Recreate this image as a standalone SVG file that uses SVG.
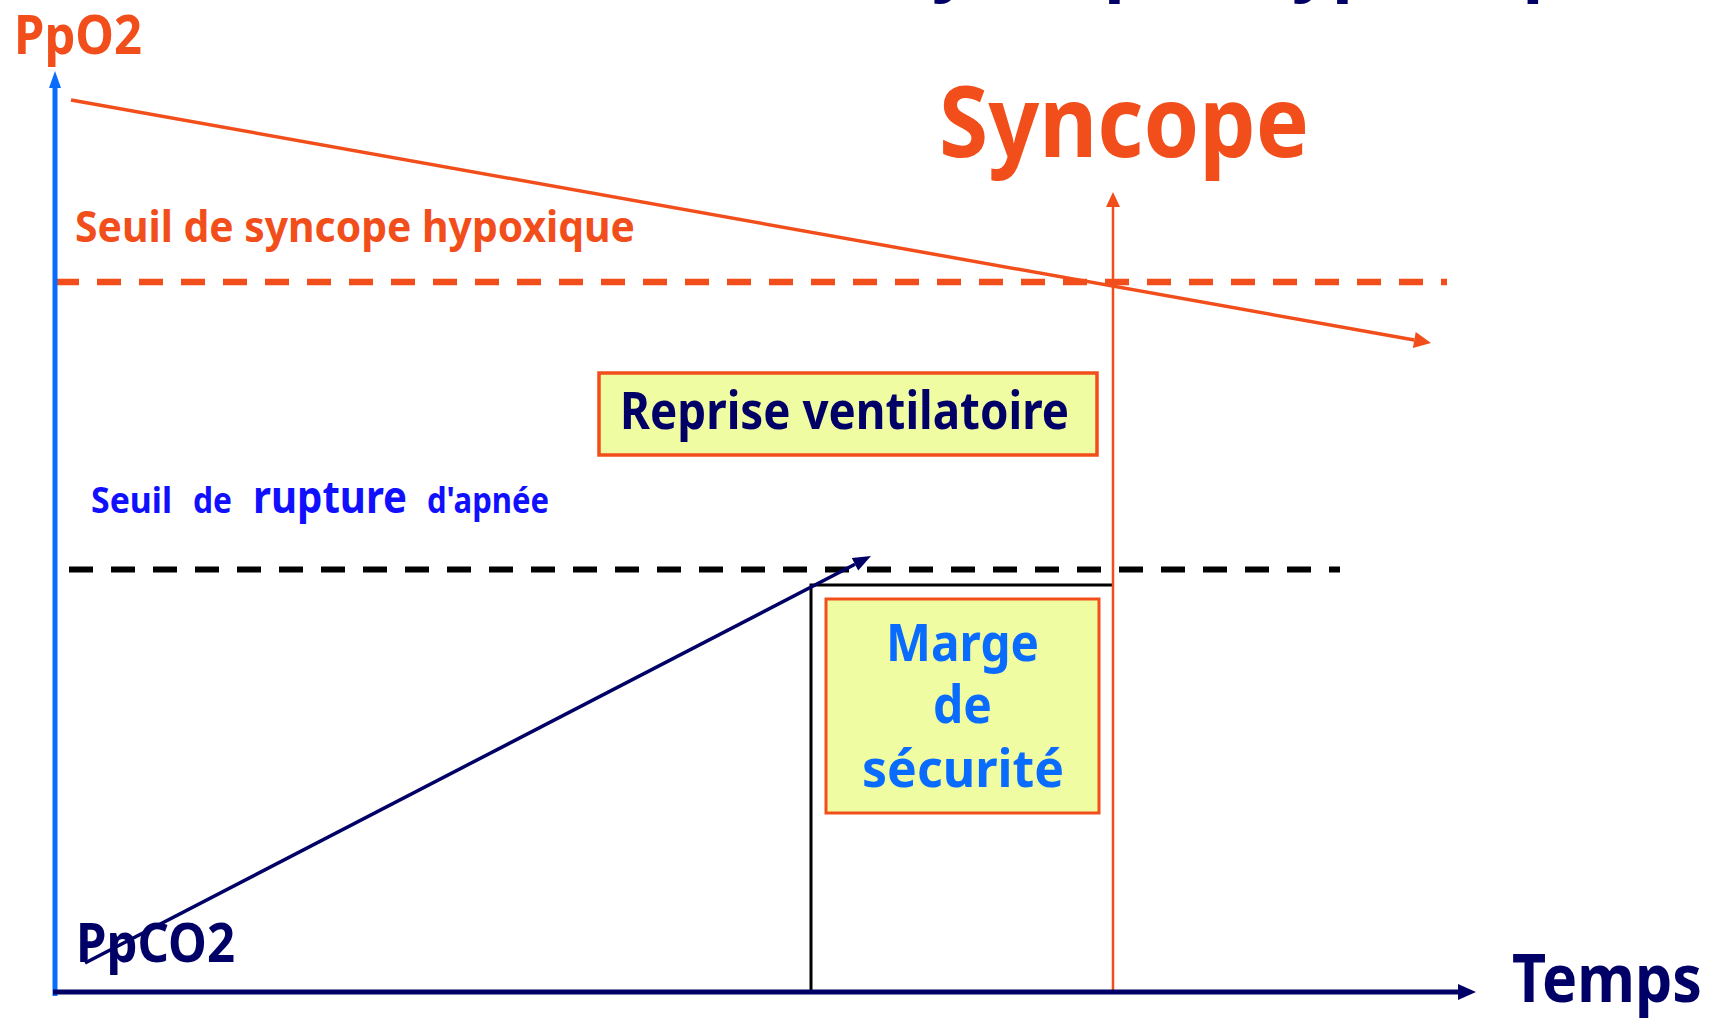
<svg xmlns="http://www.w3.org/2000/svg" width="1711" height="1019" viewBox="0 0 1711 1019">
  <style>
    text { font-family: "Noto Sans", "DejaVu Sans", sans-serif; font-weight: bold; }
    .orange { fill: #F24E1B; }
    .navy { fill: #000066; }
    .blue { fill: #0A6CFF; }
    .pure { fill: #1010FF; }
    .box { fill: #F0FCA2; stroke: #F24E1B; }
    .dash-o { stroke: #F24E1B; stroke-width: 6.5; stroke-dasharray: 24 18; fill: none; }
    .dash-k { stroke: #000000; stroke-width: 6; stroke-dasharray: 24 18; fill: none; }
    .frame { stroke: #000000; stroke-width: 3; fill: none; }
  </style>
  <defs>
    <marker id="head-blue" markerUnits="userSpaceOnUse" orient="auto" refX="0" refY="0" markerWidth="30" markerHeight="30" overflow="visible">
      <path d="M0,-6 L17,0 L0,6 Z" fill="#0A6CFF"/>
    </marker>
    <marker id="head-navy-axis" markerUnits="userSpaceOnUse" orient="auto" refX="0" refY="0" markerWidth="30" markerHeight="30" overflow="visible">
      <path d="M0,-8 L18,0 L0,8 Z" fill="#000066"/>
    </marker>
    <marker id="head-navy" markerUnits="userSpaceOnUse" orient="auto" refX="0" refY="0" markerWidth="30" markerHeight="30" overflow="visible">
      <path d="M0,-7 L18,0 L0,7 Z" fill="#000066"/>
    </marker>
    <marker id="head-orange" markerUnits="userSpaceOnUse" orient="auto" refX="0" refY="0" markerWidth="30" markerHeight="30" overflow="visible">
      <path d="M0,-8 L17,0 L0,8 Z" fill="#F24E1B"/>
    </marker>
    <marker id="head-orange-thin" markerUnits="userSpaceOnUse" orient="auto" refX="0" refY="0" markerWidth="30" markerHeight="30" overflow="visible">
      <path d="M0,-7 L15,0 L0,7 Z" fill="#F24E1B"/>
    </marker>
  </defs>

  <rect width="1711" height="1019" fill="#ffffff"/>

  <!-- slide title, mostly above the visible area: only its descenders show -->
  <text class="navy" font-size="70" y="-13" x="890 932 975 1015 1050 1104 1148 1190 1247 1292 1332 1378 1420 1458 1499 1545 1590">syncope hypoxique</text>

  <!-- threshold lines -->
  <g id="thresholds">
    <line class="dash-o" x1="55" y1="282" x2="1447" y2="282"/>
    <line class="dash-k" x1="69" y1="569.5" x2="1340" y2="569.5"/>
  </g>

  <!-- safety-margin frame -->
  <g id="margin-frame">
    <polyline class="frame" points="811,993 811,585 1113,585"/>
  </g>

  <g id="connectors">
    <!-- PpO2 falling over time -->
    <line x1="71" y1="100" x2="1414.3" y2="340" stroke="#F24E1B" stroke-width="3.5" marker-end="url(#head-orange)"/>
    <!-- PpCO2 rising over time -->
    <line x1="85" y1="963" x2="855" y2="564.3" stroke="#000066" stroke-width="3.5" marker-end="url(#head-navy)"/>
    <!-- syncope instant -->
    <line x1="1113" y1="993" x2="1113" y2="207" stroke="#F24E1B" stroke-width="2.5" marker-end="url(#head-orange-thin)"/>
    <!-- axes -->
    <line x1="55" y1="996" x2="55" y2="88" stroke="#0A6CFF" stroke-width="5" marker-end="url(#head-blue)"/>
    <line x1="53" y1="992" x2="1458" y2="992" stroke="#000066" stroke-width="5" marker-end="url(#head-navy-axis)"/>
  </g>

  <g id="axis-ppo2">
    <text class="orange" x="14" y="54" font-size="54" textLength="128" lengthAdjust="spacingAndGlyphs">PpO2</text>
  </g>
  <g id="axis-ppco2">
    <text class="navy" x="76" y="962" font-size="54" textLength="159" lengthAdjust="spacingAndGlyphs">PpCO2</text>
  </g>
  <g id="axis-temps">
    <text class="navy" x="1512" y="1002" font-size="66" textLength="190" lengthAdjust="spacingAndGlyphs">Temps</text>
  </g>

  <g id="syncope">
    <text class="orange" x="939" y="157" font-size="98" textLength="370" lengthAdjust="spacingAndGlyphs">Syncope</text>
  </g>

  <g id="seuil-syncope">
    <text class="orange" x="75" y="242" font-size="43" textLength="560" lengthAdjust="spacingAndGlyphs">Seuil de syncope hypoxique</text>
  </g>

  <g id="seuil-rupture">
    <text class="pure" y="513" font-size="35"><tspan x="91" textLength="81" lengthAdjust="spacingAndGlyphs">Seuil</tspan> <tspan x="193" textLength="39" lengthAdjust="spacingAndGlyphs">de</tspan> <tspan x="253" font-size="44" textLength="154" lengthAdjust="spacingAndGlyphs">rupture</tspan> <tspan x="427" textLength="122" lengthAdjust="spacingAndGlyphs">d'apnée</tspan></text>
  </g>

  <g id="reprise">
    <rect class="box" x="599" y="373" width="498" height="82" stroke-width="3.5"/>
    <text class="navy" x="620" y="429" font-size="52" textLength="449" lengthAdjust="spacingAndGlyphs">Reprise ventilatoire</text>
  </g>

  <g id="marge">
    <rect class="box" x="826" y="599" width="273" height="214" stroke-width="3"/>
    <text class="blue" font-size="52">
      <tspan x="886" y="661" textLength="153" lengthAdjust="spacingAndGlyphs">Marge</tspan>
      <tspan x="933" y="723" textLength="59" lengthAdjust="spacingAndGlyphs">de</tspan>
      <tspan x="862" y="787" textLength="202" lengthAdjust="spacingAndGlyphs">sécurité</tspan>
    </text>
  </g>
</svg>
